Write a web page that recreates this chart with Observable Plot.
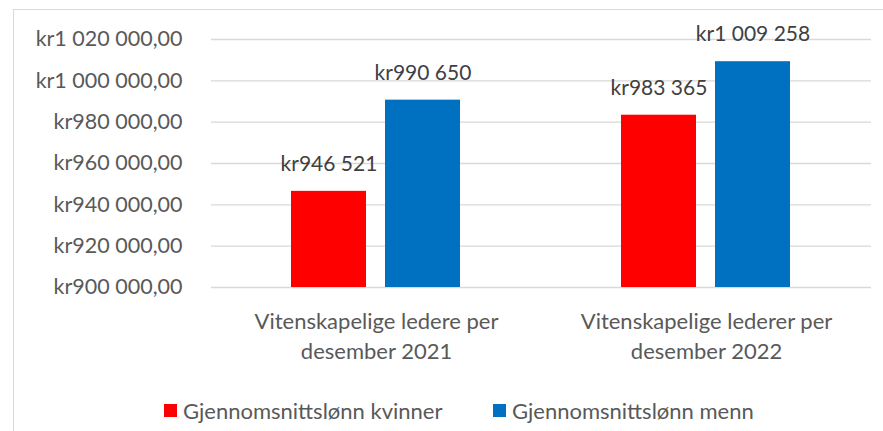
<!DOCTYPE html>
<html>
<head>
<meta charset="utf-8">
<script src="https://cdn.jsdelivr.net/npm/d3@7"></script>
<script src="https://cdn.jsdelivr.net/npm/@observablehq/plot@0.6"></script>
<style>
  html, body { margin: 0; padding: 0; background: #fff; }
  #wrap { position: relative; width: 883px; height: 431px; overflow: hidden; background: #fff; font-family: Lato, "Open Sans", sans-serif; }
  #border { position: absolute; left: 13px; top: 9px; width: 900px; height: 450px; border: 1.5px solid #d9d9d9; box-sizing: border-box; pointer-events: none; }
  #chart { position: absolute; left: 0; top: 0; }
  .leg { position: absolute; top: 399px; display: flex; align-items: center; height: 22px; font-size: 22px; color: #595959; white-space: nowrap; }
  .sw { width: 13px; height: 13px; margin-right: 6px; }
</style>
</head>
<body>
<div id="wrap">
  <div id="chart"></div>
  <div id="legend"></div>
  <div id="border"></div>
</div>
<script>
// ---- data ----
const groups = ["Vitenskapelige ledere per desember 2021", "Vitenskapelige lederer per desember 2022"];
const groupLabels = ["Vitenskapelige ledere per\ndesember 2021", "Vitenskapelige lederer per\ndesember 2022"];
const series = ["Gjennomsnittslønn kvinner", "Gjennomsnittslønn menn"];
const womenValues = [946521, 983365];
const menValues = [990650, 1009258];
const yTicks = [900000, 920000, 940000, 960000, 980000, 1000000, 1020000];
const colors = ["#FF0000", "#0070C0"];

const yMin = yTicks[0];
const yMax = yTicks[yTicks.length - 1];

const data = [];
groups.forEach((g, i) => {
  data.push({group: g, series: series[0], value: womenValues[i]});
  data.push({group: g, series: series[1], value: menValues[i]});
});
const labelRows = groups.map((g, i) => ({group: g, label: groupLabels[i]}));

const loc = d3.formatLocale({decimal: ",", thousands: " ", grouping: [3], currency: ["kr", ""]});
const fmtAxis = loc.format("$,.2f");
const fmtLabel = loc.format("$,.0f");

const chart = Plot.plot({
  width: 883,
  height: 370,
  marginLeft: 211,
  marginRight: 12,
  marginTop: 39,
  marginBottom: 83,
  style: {fontFamily: "Lato, 'Open Sans', sans-serif", fontSize: "21px", color: "#595959", background: "white", overflow: "visible"},
  fx: {domain: groups, paddingInner: 0, paddingOuter: 0, axis: null},
  x: {domain: series, paddingInner: 0.202, paddingOuter: 0.856, axis: null},
  y: {domain: [yMin, yMax], axis: null},
  color: {domain: series, range: colors},
  marks: [
    Plot.ruleY(yTicks, {y: d => d, stroke: "#d9d9d9", strokeWidth: 1.3}),
    Plot.axisY(yTicks, {tickSize: 0, tickPadding: 29, tickFormat: fmtAxis, fill: "#595959", fontSize: 21.5, label: null}),
    Plot.barY(data, {fx: "group", x: "series", y1: () => yMin, y2: "value", fill: "series"}),
    Plot.text(data, {fx: "group", x: "series", y: "value", text: d => fmtLabel(d.value), dy: -27, fill: "#404040", fontSize: 21, lineAnchor: "middle"}),
    Plot.text(labelRows, {fx: "group", text: "label", frameAnchor: "bottom", lineAnchor: "top", dy: 21, lineHeight: 1.33, fill: "#595959", fontSize: 22})
  ]
});
document.getElementById("chart").appendChild(chart);

// legend
const legend = document.getElementById("legend");
const legLeft = [164, 493];
series.forEach((s, i) => {
  const item = document.createElement("div");
  item.className = "leg";
  item.style.left = legLeft[i] + "px";
  const sw = document.createElement("span");
  sw.className = "sw";
  sw.style.background = colors[i];
  const t = document.createElement("span");
  t.textContent = s;
  item.appendChild(sw);
  item.appendChild(t);
  legend.appendChild(item);
});
</script>
</body>
</html>
